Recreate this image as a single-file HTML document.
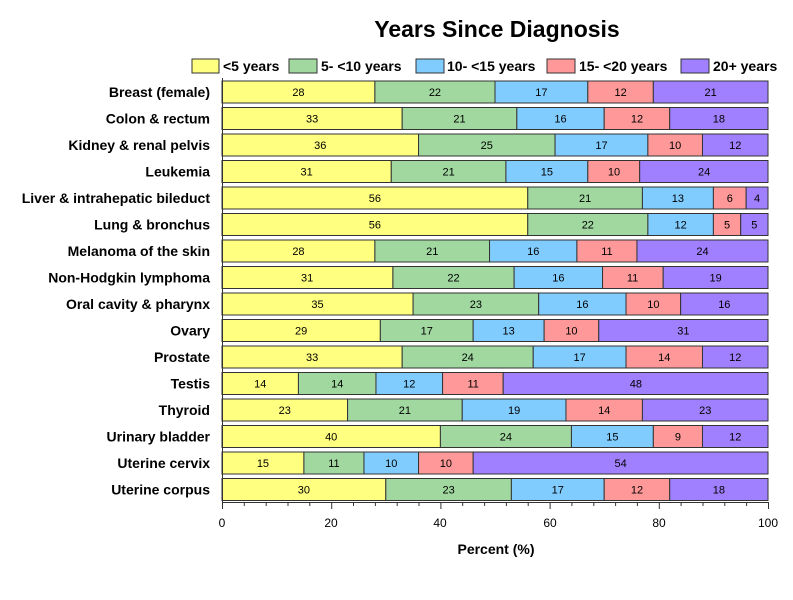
<!DOCTYPE html>
<html><head><meta charset="utf-8"><style>
body{margin:0;background:#fff}
svg{font-family:"Liberation Sans",sans-serif}
.l{font-weight:bold;font-size:14px;text-anchor:end}
.v{font-size:11px;text-anchor:middle}
.y{fill:#ffff80}.g{fill:#a0d8a0}.b{fill:#80ccff}.p{fill:#ff9999}.u{fill:#a080ff}
rect{stroke:#333;stroke-width:1}
</style></head><body>
<svg width="793" height="595" xmlns="http://www.w3.org/2000/svg">
<text x="497" y="37" font-size="23" font-weight="bold" text-anchor="middle">Years Since Diagnosis</text>
<g font-size="14" font-weight="bold">
<rect class="y" x="192" y="59" width="27" height="14"/><text x="223" y="71">&lt;5 years</text>
<rect class="g" x="289" y="59" width="28" height="14"/><text x="321" y="71">5- &lt;10 years</text>
<rect class="b" x="416" y="59" width="28" height="14"/><text x="447" y="71">10- &lt;15 years</text>
<rect class="p" x="547" y="59" width="28" height="14"/><text x="579" y="71">15- &lt;20 years</text>
<rect class="u" x="681" y="59" width="28" height="14"/><text x="713" y="71">20+ years</text>
</g>
<g>
<text class="l" x="210" y="97">Breast (female)</text>
<text class="l" x="210" y="123.5">Colon &amp; rectum</text>
<text class="l" x="210" y="150">Kidney &amp; renal pelvis</text>
<text class="l" x="210" y="176.5">Leukemia</text>
<text class="l" x="210" y="203" font-size="13.5">Liver &amp; intrahepatic bileduct</text>
<text class="l" x="210" y="229.5">Lung &amp; bronchus</text>
<text class="l" x="210" y="256">Melanoma of the skin</text>
<text class="l" x="210" y="282.5">Non-Hodgkin lymphoma</text>
<text class="l" x="210" y="309">Oral cavity &amp; pharynx</text>
<text class="l" x="210" y="335.5">Ovary</text>
<text class="l" x="210" y="362">Prostate</text>
<text class="l" x="210" y="388.5">Testis</text>
<text class="l" x="210" y="415">Thyroid</text>
<text class="l" x="210" y="441.5">Urinary bladder</text>
<text class="l" x="210" y="468">Uterine cervix</text>
<text class="l" x="210" y="494.5">Uterine corpus</text>
</g>
<svg x="222" y="0" width="546" height="595" overflow="visible">
<g transform="translate(0,81)">
<rect class="y" x="0" y="0" width="28%" height="22"/><rect class="g" x="28%" y="0" width="22%" height="22"/><rect class="b" x="50%" y="0" width="17%" height="22"/><rect class="p" x="67%" y="0" width="12%" height="22"/><rect class="u" x="79%" y="0" width="21%" height="22"/>
<text class="v" x="14%" y="15">28</text><text class="v" x="39%" y="15">22</text><text class="v" x="58.5%" y="15">17</text><text class="v" x="73%" y="15">12</text><text class="v" x="89.5%" y="15">21</text></g>
<g transform="translate(0,107.5)">
<rect class="y" x="0" y="0" width="33%" height="22"/><rect class="g" x="33%" y="0" width="21%" height="22"/><rect class="b" x="54%" y="0" width="16%" height="22"/><rect class="p" x="70%" y="0" width="12%" height="22"/><rect class="u" x="82%" y="0" width="18%" height="22"/>
<text class="v" x="16.5%" y="15">33</text><text class="v" x="43.5%" y="15">21</text><text class="v" x="62%" y="15">16</text><text class="v" x="76%" y="15">12</text><text class="v" x="91%" y="15">18</text></g>
<g transform="translate(0,134)">
<rect class="y" x="0" y="0" width="36%" height="22"/><rect class="g" x="36%" y="0" width="25%" height="22"/><rect class="b" x="61%" y="0" width="17%" height="22"/><rect class="p" x="78%" y="0" width="10%" height="22"/><rect class="u" x="88%" y="0" width="12%" height="22"/>
<text class="v" x="18%" y="15">36</text><text class="v" x="48.5%" y="15">25</text><text class="v" x="69.5%" y="15">17</text><text class="v" x="83%" y="15">10</text><text class="v" x="94%" y="15">12</text></g>
<g transform="translate(0,160.5)">
<rect class="y" x="0" y="0" width="31%" height="22"/><rect class="g" x="31%" y="0" width="21%" height="22"/><rect class="b" x="52%" y="0" width="15%" height="22"/><rect class="p" x="67%" y="0" width="9.5%" height="22"/><rect class="u" x="76.5%" y="0" width="23.5%" height="22"/>
<text class="v" x="15.5%" y="15">31</text><text class="v" x="41.5%" y="15">21</text><text class="v" x="59.5%" y="15">15</text><text class="v" x="71.8%" y="15">10</text><text class="v" x="88.3%" y="15">24</text></g>
<g transform="translate(0,187)">
<rect class="y" x="0" y="0" width="56%" height="22"/><rect class="g" x="56%" y="0" width="21%" height="22"/><rect class="b" x="77%" y="0" width="13%" height="22"/><rect class="p" x="90%" y="0" width="6%" height="22"/><rect class="u" x="96%" y="0" width="4%" height="22"/>
<text class="v" x="28%" y="15">56</text><text class="v" x="66.5%" y="15">21</text><text class="v" x="83.5%" y="15">13</text><text class="v" x="93%" y="15">6</text><text class="v" x="98%" y="15">4</text></g>
<g transform="translate(0,213.5)">
<rect class="y" x="0" y="0" width="56%" height="22"/><rect class="g" x="56%" y="0" width="22%" height="22"/><rect class="b" x="78%" y="0" width="12%" height="22"/><rect class="p" x="90%" y="0" width="5%" height="22"/><rect class="u" x="95%" y="0" width="5%" height="22"/>
<text class="v" x="28%" y="15">56</text><text class="v" x="67%" y="15">22</text><text class="v" x="84%" y="15">12</text><text class="v" x="92.5%" y="15">5</text><text class="v" x="97.5%" y="15">5</text></g>
<g transform="translate(0,240)">
<rect class="y" x="0" y="0" width="28%" height="22"/><rect class="g" x="28%" y="0" width="21%" height="22"/><rect class="b" x="49%" y="0" width="16%" height="22"/><rect class="p" x="65%" y="0" width="11%" height="22"/><rect class="u" x="76%" y="0" width="24%" height="22"/>
<text class="v" x="14%" y="15">28</text><text class="v" x="38.5%" y="15">21</text><text class="v" x="57%" y="15">16</text><text class="v" x="70.5%" y="15">11</text><text class="v" x="88%" y="15">24</text></g>
<g transform="translate(0,266.5)">
<rect class="y" x="0" y="0" width="31.3%" height="22"/><rect class="g" x="31.3%" y="0" width="22.2%" height="22"/><rect class="b" x="53.5%" y="0" width="16.2%" height="22"/><rect class="p" x="69.7%" y="0" width="11.1%" height="22"/><rect class="u" x="80.8%" y="0" width="19.2%" height="22"/>
<text class="v" x="15.6%" y="15">31</text><text class="v" x="42.4%" y="15">22</text><text class="v" x="61.6%" y="15">16</text><text class="v" x="75.2%" y="15">11</text><text class="v" x="90.4%" y="15">19</text></g>
<g transform="translate(0,293)">
<rect class="y" x="0" y="0" width="35%" height="22"/><rect class="g" x="35%" y="0" width="23%" height="22"/><rect class="b" x="58%" y="0" width="16%" height="22"/><rect class="p" x="74%" y="0" width="10%" height="22"/><rect class="u" x="84%" y="0" width="16%" height="22"/>
<text class="v" x="17.5%" y="15">35</text><text class="v" x="46.5%" y="15">23</text><text class="v" x="66%" y="15">16</text><text class="v" x="79%" y="15">10</text><text class="v" x="92%" y="15">16</text></g>
<g transform="translate(0,319.5)">
<rect class="y" x="0" y="0" width="29%" height="22"/><rect class="g" x="29%" y="0" width="17%" height="22"/><rect class="b" x="46%" y="0" width="13%" height="22"/><rect class="p" x="59%" y="0" width="10%" height="22"/><rect class="u" x="69%" y="0" width="31%" height="22"/>
<text class="v" x="14.5%" y="15">29</text><text class="v" x="37.5%" y="15">17</text><text class="v" x="52.5%" y="15">13</text><text class="v" x="64%" y="15">10</text><text class="v" x="84.5%" y="15">31</text></g>
<g transform="translate(0,346)">
<rect class="y" x="0" y="0" width="33%" height="22"/><rect class="g" x="33%" y="0" width="24%" height="22"/><rect class="b" x="57%" y="0" width="17%" height="22"/><rect class="p" x="74%" y="0" width="14%" height="22"/><rect class="u" x="88%" y="0" width="12%" height="22"/>
<text class="v" x="16.5%" y="15">33</text><text class="v" x="45%" y="15">24</text><text class="v" x="65.5%" y="15">17</text><text class="v" x="81%" y="15">14</text><text class="v" x="94%" y="15">12</text></g>
<g transform="translate(0,372.5)">
<rect class="y" x="0" y="0" width="14%" height="22"/><rect class="g" x="14%" y="0" width="14.2%" height="22"/><rect class="b" x="28.2%" y="0" width="12.2%" height="22"/><rect class="p" x="40.4%" y="0" width="11.1%" height="22"/><rect class="u" x="51.5%" y="0" width="48.5%" height="22"/>
<text class="v" x="7%" y="15">14</text><text class="v" x="21.1%" y="15">14</text><text class="v" x="34.3%" y="15">12</text><text class="v" x="46%" y="15">11</text><text class="v" x="75.8%" y="15">48</text></g>
<g transform="translate(0,399)">
<rect class="y" x="0" y="0" width="23%" height="22"/><rect class="g" x="23%" y="0" width="21%" height="22"/><rect class="b" x="44%" y="0" width="19%" height="22"/><rect class="p" x="63%" y="0" width="14%" height="22"/><rect class="u" x="77%" y="0" width="23%" height="22"/>
<text class="v" x="11.5%" y="15">23</text><text class="v" x="33.5%" y="15">21</text><text class="v" x="53.5%" y="15">19</text><text class="v" x="70%" y="15">14</text><text class="v" x="88.5%" y="15">23</text></g>
<g transform="translate(0,425.5)">
<rect class="y" x="0" y="0" width="40%" height="22"/><rect class="g" x="40%" y="0" width="24%" height="22"/><rect class="b" x="64%" y="0" width="15%" height="22"/><rect class="p" x="79%" y="0" width="9%" height="22"/><rect class="u" x="88%" y="0" width="12%" height="22"/>
<text class="v" x="20%" y="15">40</text><text class="v" x="52%" y="15">24</text><text class="v" x="71.5%" y="15">15</text><text class="v" x="83.5%" y="15">9</text><text class="v" x="94%" y="15">12</text></g>
<g transform="translate(0,452)">
<rect class="y" x="0" y="0" width="15%" height="22"/><rect class="g" x="15%" y="0" width="11%" height="22"/><rect class="b" x="26%" y="0" width="10%" height="22"/><rect class="p" x="36%" y="0" width="10%" height="22"/><rect class="u" x="46%" y="0" width="54%" height="22"/>
<text class="v" x="7.5%" y="15">15</text><text class="v" x="20.5%" y="15">11</text><text class="v" x="31%" y="15">10</text><text class="v" x="41%" y="15">10</text><text class="v" x="73%" y="15">54</text></g>
<g transform="translate(0,478.5)">
<rect class="y" x="0" y="0" width="30%" height="22"/><rect class="g" x="30%" y="0" width="23%" height="22"/><rect class="b" x="53%" y="0" width="17%" height="22"/><rect class="p" x="70%" y="0" width="12%" height="22"/><rect class="u" x="82%" y="0" width="18%" height="22"/>
<text class="v" x="15%" y="15">30</text><text class="v" x="41.5%" y="15">23</text><text class="v" x="61.5%" y="15">17</text><text class="v" x="76%" y="15">12</text><text class="v" x="91%" y="15">18</text></g>
</svg>
<g stroke="#333" stroke-width="1">
<line x1="222.5" y1="78" x2="222.5" y2="502"/>
<line x1="222" y1="502.5" x2="768" y2="502.5"/>
<path d="M222.5 502v7M331.7 502v7M440.9 502v7M550.1 502v7M659.3 502v7M768.5 502v7M244.3 502v4M266.2 502v4M288.0 502v4M309.8 502v4M353.5 502v4M375.4 502v4M397.2 502v4M419.0 502v4M462.7 502v4M484.6 502v4M506.4 502v4M528.2 502v4M571.9 502v4M593.8 502v4M615.6 502v4M637.4 502v4M681.1 502v4M703.0 502v4M724.8 502v4M746.6 502v4"/>
</g>
<g font-size="12" text-anchor="middle">
<text x="222" y="527">0</text><text x="331" y="527">20</text><text x="440" y="527">40</text><text x="550" y="527">60</text><text x="659" y="527">80</text><text x="768" y="527">100</text>
</g>
<text x="496" y="554" font-size="14" font-weight="bold" text-anchor="middle">Percent (%)</text>
</svg>
</body></html>
